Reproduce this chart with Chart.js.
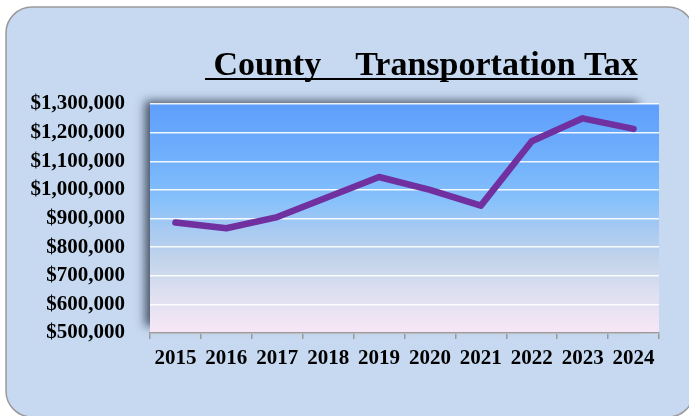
<!DOCTYPE html>
<html>
<head>
<meta charset="utf-8">
<script src="https://cdn.jsdelivr.net/npm/chart.js@4"></script>
<style>
  html, body { margin: 0; padding: 0; background: #ffffff; }
  #wrap { width: 689px; height: 416px; position: relative; }
</style>
</head>
<body>
<div id="wrap"><canvas id="taxChart"></canvas></div>
<script>
// data
const years = ['2015', '2016', '2017', '2018', '2019', '2020', '2021', '2022', '2023', '2024'];
const taxValues = [886000, 866000, 905000, 975000, 1045000, 1000000, 945000, 1170000, 1250000, 1213000];
const yTicks = [500000, 600000, 700000, 800000, 900000, 1000000, 1100000, 1200000, 1300000];
const chartTitle = ' County    Transportation Tax';

const serif = '"Liberation Serif", "Times New Roman", serif';

// rounded light blue panel behind everything + gradient plot area with shadow
const backdrop = {
    id: 'backdrop',
    beforeDraw(chart) {
        const ctx = chart.ctx;
        const a = chart.chartArea;
        ctx.save();
        ctx.fillStyle = '#ffffff';
        ctx.fillRect(0, 0, chart.width, chart.height);

        // outer panel
        ctx.beginPath();
        ctx.roundRect(6, 7, 688, 410, 26);
        ctx.fillStyle = '#c6d9f0';
        ctx.fill();
        ctx.lineWidth = 1.5;
        ctx.strokeStyle = '#9a9a9a';
        ctx.stroke();

        // plot area shadow
        ctx.save();
        ctx.shadowColor = 'rgba(40, 50, 70, 0.8)';
        ctx.shadowBlur = 9;
        ctx.shadowOffsetX = -5;
        ctx.shadowOffsetY = -3;
        ctx.fillStyle = '#8ab8f0';
        ctx.fillRect(a.left, a.top, a.right - a.left - 16, a.bottom - a.top - 4);
        ctx.restore();

        const g = ctx.createLinearGradient(0, a.top, 0, a.bottom);
        g.addColorStop(0, '#5e9efc');
        g.addColorStop(0.25, '#72b1fb');
        g.addColorStop(0.42, '#86c1fb');
        g.addColorStop(0.55, '#a8caf2');
        g.addColorStop(0.68, '#c2d4ea');
        g.addColorStop(0.82, '#dcdff0');
        g.addColorStop(1, '#f8e7f6');
        ctx.fillStyle = g;
        ctx.fillRect(a.left, a.top, a.right - a.left, a.bottom - a.top);
        ctx.restore();
    },
    afterDraw(chart) {
        // underlined title
        const ctx = chart.ctx;
        ctx.save();
        ctx.font = 'bold 34px ' + serif;
        ctx.fillStyle = '#000000';
        ctx.textBaseline = 'alphabetic';
        ctx.textAlign = 'left';
        const x = 205, y = 75;
        ctx.fillText(chartTitle, x, y);
        const w = ctx.measureText(chartTitle).width;
        ctx.fillRect(x, y + 3, w, 2);
        ctx.restore();
    }
};

const ctx = document.getElementById('taxChart').getContext('2d');
const taxChart = new Chart(ctx, {
    type: 'line',
    data: {
        labels: years,
        datasets: [{
            label: 'Transportation Tax',
            data: taxValues,
            borderColor: '#7030a0',
            borderWidth: 6.5,
            borderCapStyle: 'round',
            borderJoinStyle: 'round',
            pointRadius: 0,
            tension: 0,
            fill: false
        }]
    },
    options: {
        responsive: true,
        maintainAspectRatio: false,
        animation: false,
        layout: {
            padding: { top: 104, right: 30, left: 0, bottom: 0 }
        },
        plugins: {
            legend: { display: false },
            title: { display: false },
            tooltip: { enabled: false }
        },
        scales: {
            x: {
                offset: true,
                grid: {
                    offset: true,
                    drawOnChartArea: false,
                    drawTicks: true,
                    tickLength: 6,
                    color: '#9a9a9a',
                    lineWidth: 1.5
                },
                border: { display: true, color: '#9a9a9a', width: 1.5 },
                ticks: {
                    color: '#000000',
                    padding: 7,
                    maxRotation: 0,
                    font: { family: serif, size: 21, weight: 'bold' }
                },
                afterFit(scale) { scale.height = 83; }
            },
            y: {
                min: 500000,
                max: 1300000,
                afterBuildTicks(scale) {
                    scale.ticks = yTicks.map(v => ({ value: v }));
                },
                grid: {
                    color: 'rgba(255,255,255,0.9)',
                    lineWidth: 1.5,
                    drawTicks: false
                },
                border: { display: false },
                ticks: {
                    color: '#000000',
                    padding: 25,
                    font: { family: serif, size: 21, weight: 'bold' },
                    callback: v => '$' + v.toLocaleString('en-US')
                },
                afterFit(scale) { scale.width = 150; }
            }
        }
    },
    plugins: [backdrop]
});
</script>
</body>
</html>
